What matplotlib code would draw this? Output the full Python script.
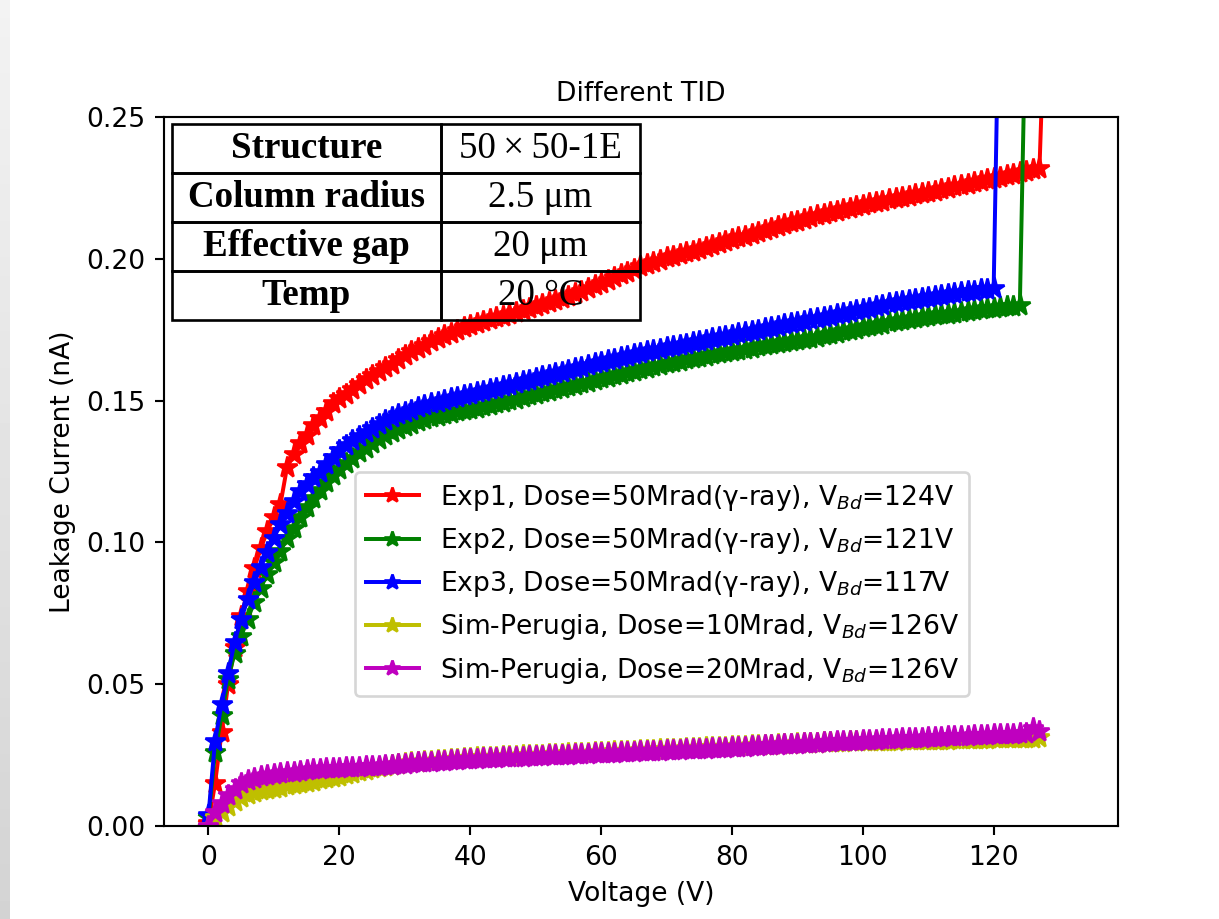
import numpy as np
import matplotlib
matplotlib.use('Agg')
import matplotlib.pyplot as plt

# leakage current (nA) per 1 V step, starting at 0 V
exp1 = [0.001, 0.015, 0.033, 0.050, 0.063, 0.074, 0.083, 0.091, 0.098, 0.104, 0.109, 0.1135,
        0.1265, 0.131, 0.135, 0.138, 0.1415, 0.144, 0.1465, 0.149, 0.151,
        0.1525, 0.154, 0.156, 0.1575, 0.159, 0.1605, 0.162, 0.163, 0.1645, 0.166,
        0.1675, 0.1685, 0.1695, 0.171, 0.172, 0.173, 0.174, 0.175, 0.1758, 0.1765,
        0.1775, 0.1782, 0.1788, 0.1795, 0.180, 0.1807, 0.1814, 0.1821, 0.1828, 0.1835,
        0.1842, 0.1849, 0.1856, 0.1863, 0.187, 0.1879, 0.1888, 0.1897, 0.1906, 0.1915,
        0.1925, 0.1935, 0.1945, 0.1955, 0.1965, 0.1973, 0.1981, 0.1989, 0.1997, 0.2005,
        0.2011, 0.2017, 0.2023, 0.2029, 0.2035, 0.2042, 0.2049, 0.2056, 0.2063, 0.207,
        0.2076, 0.2082, 0.2088, 0.2094, 0.210, 0.2107, 0.2114, 0.2121, 0.2128, 0.2135,
        0.2141, 0.2147, 0.2153, 0.2159, 0.2165, 0.217, 0.2175, 0.218, 0.2185, 0.219,
        0.2195, 0.220, 0.2205, 0.221, 0.2215, 0.2219, 0.2223, 0.2227, 0.2231, 0.2235,
        0.224, 0.2245, 0.225, 0.2255, 0.226, 0.2265, 0.227, 0.2275, 0.228, 0.2285,
        0.229, 0.2295, 0.230, 0.2305, 0.231, 0.2315, 0.232,
        0.30]

exp2 = [0.003, 0.026, 0.039, 0.052, 0.061, 0.067, 0.073, 0.079, 0.084, 0.089, 0.093,
        0.097, 0.1015, 0.105, 0.109, 0.1125, 0.1155, 0.1185, 0.1212, 0.1237, 0.126,
        0.128, 0.1299, 0.1317, 0.1334, 0.135, 0.1364, 0.1377, 0.1389, 0.14, 0.141,
        0.1419, 0.1427, 0.1434, 0.1441, 0.1447, 0.1453, 0.1458, 0.1463, 0.1467, 0.1471,
        0.1475, 0.148, 0.1485, 0.149, 0.1495, 0.1501, 0.1507, 0.1513, 0.1519, 0.1525,
        0.153, 0.1535, 0.154, 0.1545, 0.155, 0.1556, 0.1561, 0.1567, 0.1572, 0.1578,
        0.1583, 0.1589, 0.1594, 0.16, 0.1605, 0.1610, 0.1616, 0.1621, 0.1627, 0.1632,
        0.1637, 0.1641, 0.1646, 0.165, 0.1655, 0.1659, 0.1663, 0.1667, 0.1671, 0.1675,
        0.1679, 0.1683, 0.1687, 0.1691, 0.1695, 0.1698, 0.1702, 0.1705, 0.1709, 0.1712,
        0.1717, 0.1721, 0.1726, 0.173, 0.1735, 0.1740, 0.1744, 0.1749, 0.1753, 0.1758,
        0.1762, 0.1767, 0.1771, 0.1776, 0.178, 0.1784, 0.1787, 0.1791, 0.1794, 0.1798,
        0.1801, 0.1804, 0.1807, 0.181, 0.1813, 0.1816, 0.1819, 0.1822, 0.1825, 0.1828,
        0.183, 0.1832, 0.1834, 0.1836,
        0.30]

exp3 = [0.004, 0.030, 0.043, 0.054, 0.065, 0.073, 0.080, 0.086, 0.0915, 0.0965, 0.1015,
        0.1065, 0.1105, 0.1145, 0.118, 0.1205, 0.123, 0.125, 0.1275, 0.130, 0.1325,
        0.1343, 0.136, 0.1376, 0.1391, 0.1405, 0.1418, 0.143, 0.1441, 0.1451, 0.146,
        0.1468, 0.1476, 0.1483, 0.149, 0.1496, 0.1502, 0.1508, 0.1514, 0.152, 0.1525,
        0.153, 0.1535, 0.154, 0.1545, 0.155, 0.1556, 0.1562, 0.1568, 0.1574, 0.158,
        0.1586, 0.1591, 0.1597, 0.1602, 0.1608, 0.1614, 0.162, 0.1625, 0.1631, 0.1637,
        0.1642, 0.1648, 0.1653, 0.1659, 0.1664, 0.1669, 0.1674, 0.1678, 0.1683, 0.1688,
        0.1692, 0.1697, 0.1701, 0.1706, 0.171, 0.1714, 0.1719, 0.1723, 0.1728, 0.1732,
        0.1737, 0.1741, 0.1746, 0.175, 0.1755, 0.1759, 0.1764, 0.1769, 0.1773, 0.1778,
        0.1782, 0.1787, 0.1791, 0.1796, 0.180, 0.1805, 0.1809, 0.1814, 0.1818, 0.1823,
        0.1828, 0.1833, 0.1838, 0.1843, 0.1848, 0.1851, 0.1855, 0.1858, 0.1862, 0.1865,
        0.1868, 0.1872, 0.1875, 0.1879, 0.1882, 0.1885, 0.1888, 0.1892, 0.1895, 0.1898,
        0.32]

sim10 = [0.000, 0.003, 0.005, 0.007, 0.0088, 0.0103, 0.0112, 0.012, 0.0126, 0.013, 0.0134,
         0.0139, 0.0144, 0.0148, 0.0152, 0.0156, 0.016, 0.0164, 0.0168, 0.0172, 0.0176,
         0.0182, 0.0188, 0.0194, 0.0199, 0.0204, 0.0208, 0.0212, 0.0215, 0.0219, 0.0222,
         0.0224, 0.0226, 0.0228, 0.023, 0.0232, 0.0234, 0.0236, 0.0238, 0.0239, 0.0241,
         0.0242, 0.0243, 0.0244, 0.0245, 0.0246, 0.0247, 0.0248, 0.0249, 0.025, 0.0251,
         0.0252, 0.0253, 0.0254, 0.0255, 0.0256, 0.0257, 0.0258, 0.0259, 0.026, 0.0261,
         0.0262, 0.0263, 0.0264, 0.0265, 0.0266, 0.0267, 0.0268, 0.0269, 0.027, 0.0271,
         0.0272, 0.0273, 0.0274, 0.0275, 0.0276, 0.0277, 0.0278, 0.0279, 0.028, 0.0281,
         0.0282, 0.0283, 0.0284, 0.0285, 0.0286, 0.0287, 0.0288, 0.0289, 0.029, 0.0291,
         0.0292, 0.0293, 0.0294, 0.0295, 0.0296, 0.0297, 0.0297, 0.0298, 0.0298, 0.0299,
         0.0299, 0.030, 0.030, 0.0301, 0.0301, 0.0302, 0.0302, 0.0303, 0.0303, 0.0304,
         0.0304, 0.0305, 0.0305, 0.0306, 0.0306, 0.0307, 0.0307, 0.0308, 0.0308, 0.0309,
         0.0309, 0.031, 0.031, 0.0311, 0.0311, 0.0312, 0.0315]

sim20 = [0.000, 0.005, 0.008, 0.0108, 0.0132, 0.015, 0.0162, 0.0171, 0.0177, 0.0181, 0.0185,
         0.0188, 0.019, 0.0192, 0.0195, 0.0198, 0.02, 0.0201, 0.0203, 0.0205, 0.0206,
         0.0207, 0.0208, 0.0209, 0.021, 0.0212, 0.0213, 0.0215, 0.0216, 0.0218, 0.022,
         0.0222, 0.0224, 0.0225, 0.0227, 0.0229, 0.023, 0.0232, 0.0233, 0.0235, 0.0237,
         0.0238, 0.0239, 0.024, 0.0241, 0.0242, 0.0243, 0.0244, 0.0245, 0.0246, 0.0247,
         0.0248, 0.0249, 0.025, 0.0251, 0.0252, 0.0253, 0.0254, 0.0255, 0.0256, 0.0257,
         0.0258, 0.0259, 0.026, 0.0261, 0.0262, 0.0263, 0.0264, 0.0265, 0.0266, 0.0267,
         0.0268, 0.0269, 0.027, 0.0271, 0.0272, 0.0273, 0.0274, 0.0275, 0.0276, 0.0278,
         0.0279, 0.028, 0.0281, 0.0283, 0.0284, 0.0285, 0.0286, 0.0288, 0.0289, 0.029,
         0.0291, 0.0293, 0.0294, 0.0295, 0.0296, 0.0298, 0.0299, 0.03, 0.0301, 0.0302,
         0.0304, 0.0305, 0.0306, 0.0307, 0.0308, 0.0309, 0.031, 0.0311, 0.0312, 0.0313,
         0.0314, 0.0315, 0.0316, 0.0317, 0.0318, 0.0319, 0.032, 0.0321, 0.0322, 0.0323,
         0.0324, 0.0325, 0.0326, 0.0327, 0.0328, 0.0345, 0.0335]

labels = ['Exp1, Dose=50Mrad(γ-ray), V$_{Bd}$=124V',
          'Exp2, Dose=50Mrad(γ-ray), V$_{Bd}$=121V',
          'Exp3, Dose=50Mrad(γ-ray), V$_{Bd}$=117V',
          'Sim-Perugia, Dose=10Mrad, V$_{Bd}$=126V',
          'Sim-Perugia, Dose=20Mrad, V$_{Bd}$=126V']
colors = ['r', 'g', 'b', 'y', 'm']

table_rows = [['Structure', '50\u2009×\u200950-1E'],
              ['Column radius', '2.5 μm'],
              ['Effective gap', '20 μm'],
              ['Temp', '20 °C']]

W, H, DPI = 1219, 919, 190.5
fig = plt.figure(figsize=(W / DPI, H / DPI), dpi=DPI)

# grey strip on the left edge of the screenshot
strip = fig.add_axes([0, 0, 10 / W, 1])
strip.imshow(np.linspace(0.95, 0.83, 50).reshape(-1, 1), cmap='gray', vmin=0, vmax=1,
             aspect='auto')
strip.axis('off')

ax = fig.add_axes([164 / W, 1 - 826 / H, 954 / W, 709 / H])

for ys, c, lab in zip([exp1, exp2, exp3, sim10, sim20], colors, labels):
    ax.plot(np.arange(len(ys)), ys, c + '-*', markersize=8, label=lab)

ax.set_xlim(-6.8, 139)
ax.set_ylim(0, 0.25)
ax.set_xticks([0, 20, 40, 60, 80, 100, 120])
ax.set_yticks([0.00, 0.05, 0.10, 0.15, 0.20, 0.25])
ax.set_title('Different TID', fontsize=10)
ax.set_xlabel('Voltage (V)')
ax.set_ylabel('Leakage Current (nA)')

ax.legend(loc='upper left', bbox_to_anchor=((355 - 164) / 954, (826 - 472) / 709),
          borderaxespad=0, markerscale=0.75)

tab = ax.table(cellText=table_rows, cellLoc='center',
               colWidths=[269 / 468, 199 / 468],
               bbox=[(172 - 164) / 954, (826 - 320) / 709, 468 / 954, 196 / 709])
tab.auto_set_font_size(False)
tab.set_zorder(5)
for (r, c), cell in tab.get_celld().items():
    cell.set_facecolor('none')
    cell.set_linewidth(1.0)
    cell.get_text().set_fontfamily('Liberation Serif')
    cell.get_text().set_fontsize(14)
    if c == 0:
        cell.get_text().set_fontweight('bold')

fig.savefig('out.png', dpi=DPI)
